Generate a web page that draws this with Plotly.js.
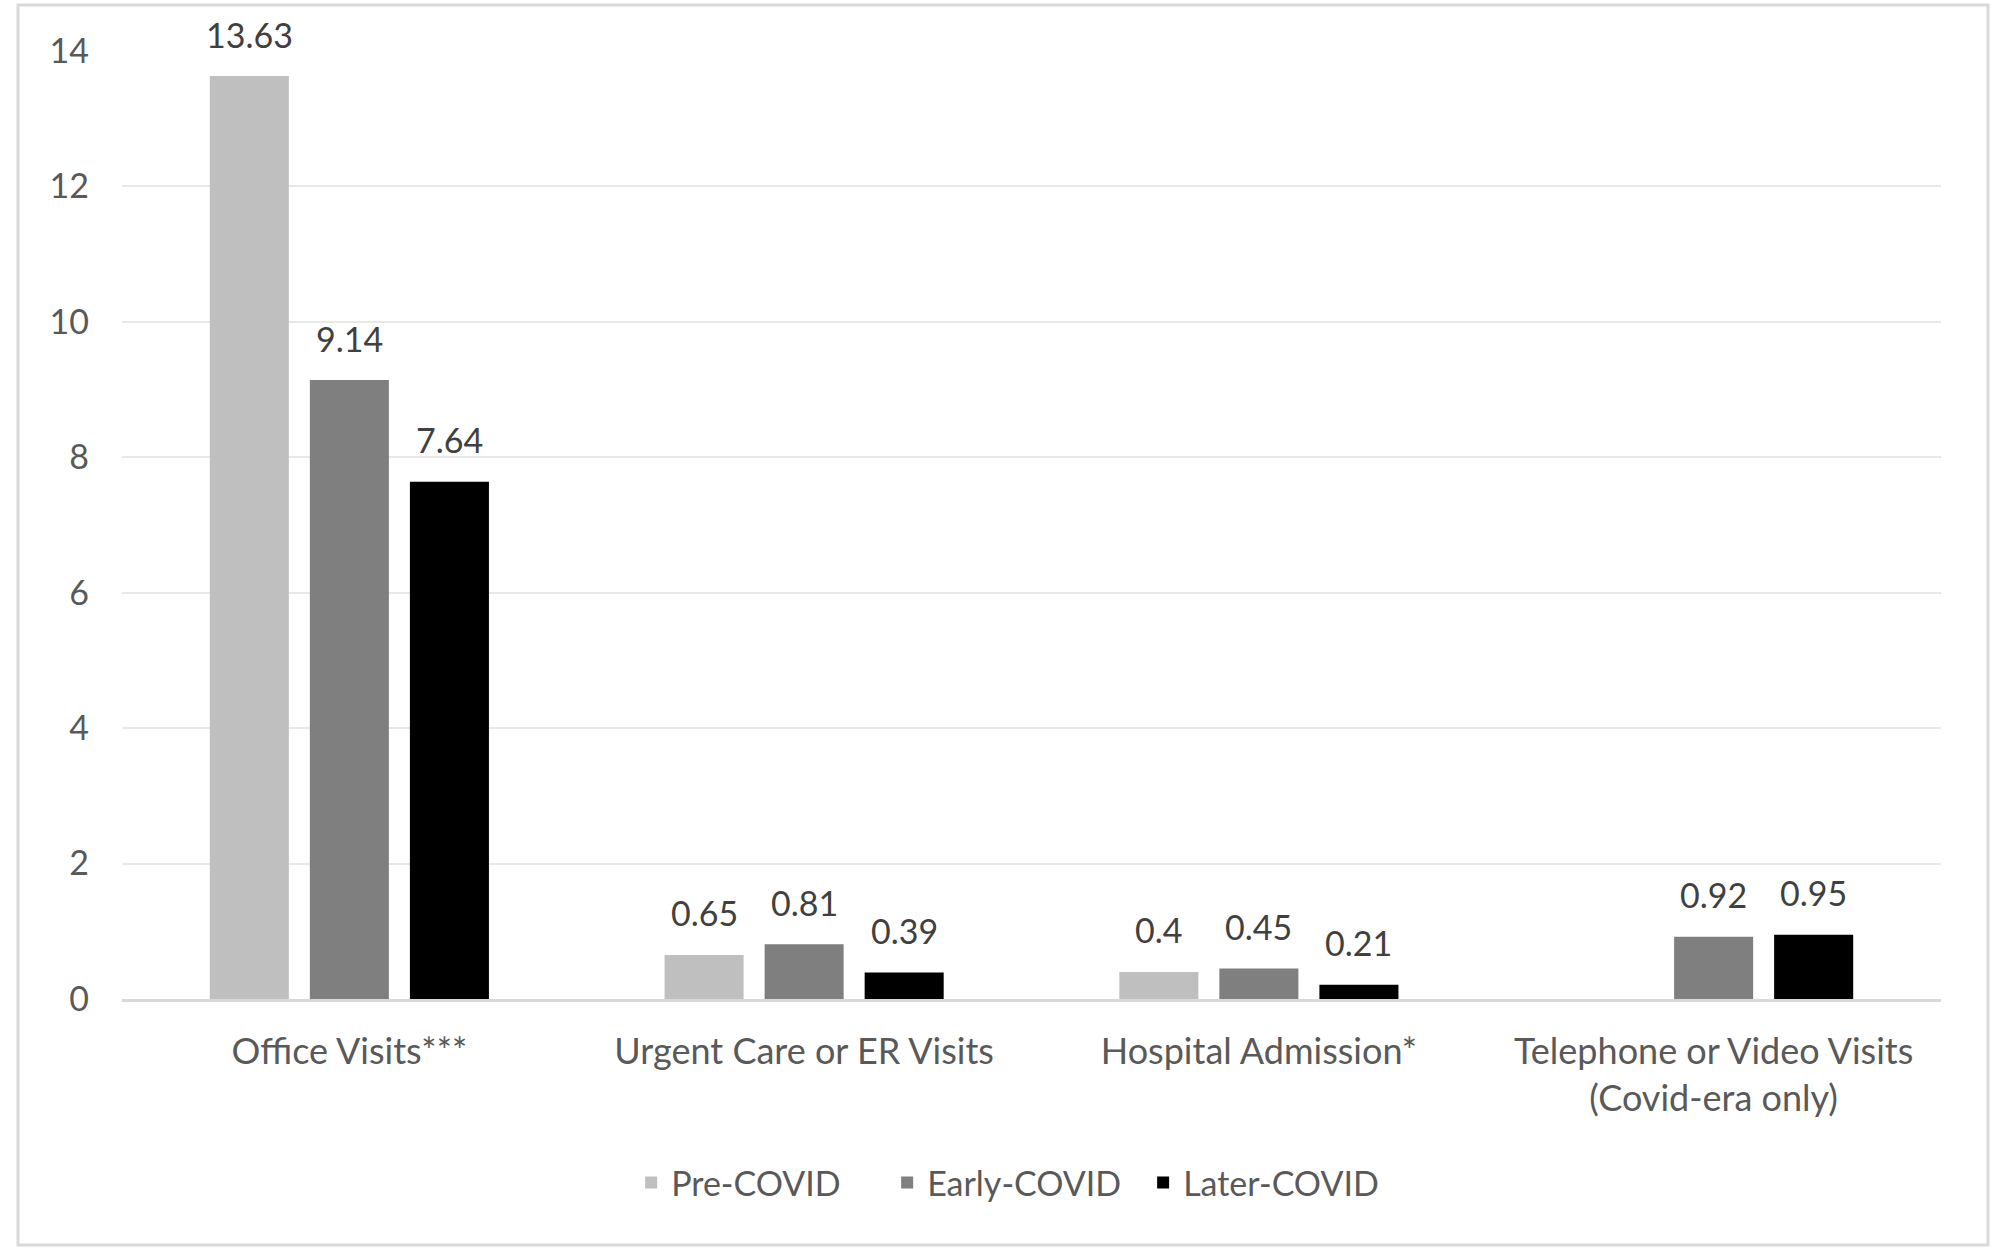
<!DOCTYPE html>
<html>
<head>
<meta charset="utf-8">
<script src="https://cdn.plot.ly/plotly-3.0.1.min.js"></script>
<style>html,body{margin:0;padding:0;background:#fff;}#chart{width:2008px;height:1256px;}</style>
</head>
<body>
<div id="chart"></div>
<script>
const categories = ['Office Visits***', 'Urgent Care or ER Visits', 'Hospital Admission*', 'Telephone or Video Visits<br>(Covid-era only)'];
const seriesNames = ['Pre-COVID', 'Early-COVID', 'Later-COVID'];
const preCovid = [13.63, 0.65, 0.4, null];
const earlyCovid = [9.14, 0.81, 0.45, 0.92];
const laterCovid = [7.64, 0.39, 0.21, 0.95];
const yTicks = [0, 2, 4, 6, 8, 10, 12, 14];

const colors = ['#BFBFBF', '#7F7F7F', '#000000'];
const series = [preCovid, earlyCovid, laterCovid];
const FONT = 'Lato, "Open Sans", sans-serif';
const W = 2008, H = 1256;
const M = {l: 122, r: 67, t: 51, b: 257};
const bargap = 0.34, bargroupgap = 0.21;

const traces = series.map((vals, i) => ({
  type: 'bar',
  name: seriesNames[i],
  x: categories,
  y: vals,
  marker: {color: colors[i], line: {width: 0}},
  hoverinfo: 'x+y+name'
}));

// data labels via annotations, positioned on the library's axes
const plotW = W - M.l - M.r;
const slotPx = (plotW / categories.length) * (1 - bargap) / series.length;
const annotations = [];
series.forEach((vals, i) => {
  vals.forEach((v, j) => {
    if (v === null) return;
    annotations.push({
      x: categories[j], y: v, xref: 'x', yref: 'y',
      text: String(v), showarrow: false,
      xshift: (i - (series.length - 1) / 2) * slotPx,
      yanchor: 'middle', yshift: 42,
      font: {family: FONT, size: 34, color: '#404040'}
    });
  });
});

const plotH = H - M.t - M.b;
const layout = {
  width: W, height: H,
  margin: M,
  paper_bgcolor: '#ffffff', plot_bgcolor: '#ffffff',
  font: {family: FONT, size: 34, color: '#595959'},
  barmode: 'group',
  bargap: bargap, bargroupgap: bargroupgap,
  showlegend: true,
  legend: {
    orientation: 'h', x: 0.491, xanchor: 'center', y: (M.t + plotH - 1183) / plotH, yanchor: 'middle',
    font: {family: FONT, size: 34, color: '#595959'}, itemclick: false, itemdoubleclick: false,
    traceorder: 'normal', entrywidth: 211, entrywidthmode: 'pixels'
  },
  xaxis: {
    type: 'category',
    showgrid: false, zeroline: false,
    showline: true, linecolor: '#D9D9D9', linewidth: 3,
    ticks: '', ticklabelstandoff: 19,
    tickfont: {family: FONT, size: 36, color: '#595959'}
  },
  yaxis: {
    range: [0, 14], tickvals: yTicks, ticktext: yTicks.map(String),
    showgrid: true, gridcolor: '#E8E8E8', gridwidth: 2,
    zeroline: false, showline: false, ticks: '',
    ticklabelstandoff: 32,
    tickfont: {family: FONT, size: 34, color: '#595959'}
  },
  annotations: annotations,
  shapes: [{
    type: 'rect', xref: 'paper', yref: 'paper',
    x0: (18 - M.l) / plotW, x1: (1988 - M.l) / plotW,
    y0: (M.t + plotH - 1245) / plotH, y1: (M.t + plotH - 5) / plotH,
    line: {color: '#D9D9D9', width: 3}, fillcolor: 'rgba(0,0,0,0)', layer: 'below'
  }]
};

Plotly.newPlot('chart', traces, layout, {displayModeBar: false, staticPlot: true});
</script>
</body>
</html>
